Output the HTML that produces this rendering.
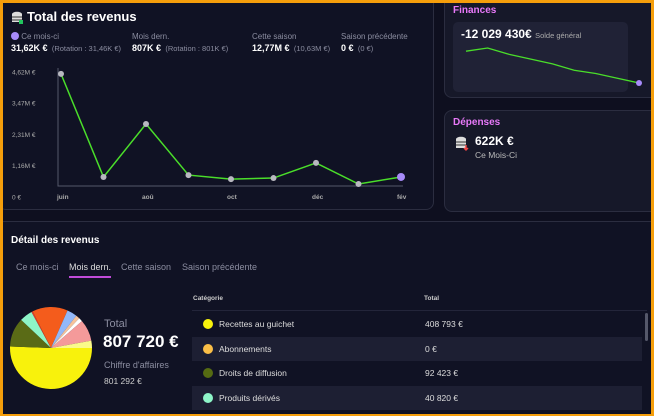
<!DOCTYPE html>
<html><head><meta charset="utf-8"><style>
*{box-sizing:border-box;margin:0;padding:0}
html{width:654px;height:416px;overflow:hidden}
body{width:654px;height:416px;overflow:hidden;background:#0e0f1f;font-family:"Liberation Sans",sans-serif;color:#fff;position:relative}
.frame{position:absolute;left:0;top:0;width:654px;height:416px;border:3px solid #f59e0b;border-bottom-width:2px;pointer-events:none;z-index:10}
.card{position:absolute;border:1px solid #2b2d40;border-radius:8px;background:#101224;overflow:hidden}
.t{position:absolute;white-space:nowrap}
.g{color:#8b8da0}
</style></head><body>
<div class="frame"></div>

<div class="card" style="left:-2px;top:-6px;width:436px;height:216px">
<svg class="t" style="left:12px;top:16px" width="12" height="14"><ellipse cx="6" cy="3" rx="5" ry="2.2" fill="#ddd"/><rect x="1" y="3" width="10" height="8" fill="#ddd"/><path d="M1 6h10M1 9h10" stroke="#333"/><rect x="8" y="9" width="4" height="4" fill="#22c55e"/></svg>
<div class="t" style="left:28px;top:14px;font-size:13px;font-weight:bold">Total des revenus</div>
<div class="t" style="left:12px;top:37px;font-size:8px"><span style="display:inline-block;width:8px;height:8px;border-radius:50%;background:#a78bfa;vertical-align:-1px"></span> <span class="g">Ce mois-ci</span><br><b style="font-size:9px;line-height:14px">31,62K €</b> <span class="g" style="font-size:7.5px">&nbsp;(Rotation : 31,46K €)</span></div>
<div class="t" style="left:133px;top:37px;font-size:8px"><span class="g">Mois dern.</span><br><b style="font-size:9px;line-height:14px">807K €</b> <span class="g" style="font-size:7.5px">&nbsp;(Rotation : 801K €)</span></div>
<div class="t" style="left:253px;top:37px;font-size:8px"><span class="g">Cette saison</span><br><b style="font-size:9px;line-height:14px">12,77M €</b> <span class="g" style="font-size:7.5px">&nbsp;(10,63M €)</span></div>
<div class="t" style="left:342px;top:37px;font-size:8px"><span class="g">Saison précédente</span><br><b style="font-size:9px;line-height:14px">0 €</b> <span class="g" style="font-size:7.5px">&nbsp;(0 €)</span></div>
</div>
<svg id="lc" class="t" style="left:0;top:0" width="440" height="210"></svg>

<div class="card" style="left:444px;top:-6px;width:216px;height:104px;background:#161829">
<div class="t" style="left:8px;top:10px;font-size:10px;font-weight:bold;color:#e879f9">Finances</div>
<div class="t" style="left:8px;top:27px;width:175px;height:70px;background:#202236;border-radius:5px"></div>
<div class="t" style="left:16px;top:32px;font-size:12px;font-weight:bold">-12 029 430€ <span style="font-size:7.5px;font-weight:normal;color:#aaa">Solde général</span></div>
</div>
<svg id="sp" class="t" style="left:444px;top:0" width="210" height="100"></svg>

<div class="card" style="left:444px;top:110px;width:216px;height:102px;background:#161829">
<div class="t" style="left:8px;top:6px;font-size:10px;font-weight:bold;color:#e879f9">Dépenses</div>
<svg class="t" style="left:10px;top:25px" width="14" height="16"><ellipse cx="6" cy="3" rx="5" ry="2.2" fill="#ddd"/><rect x="1" y="3" width="10" height="9" fill="#ddd"/><path d="M1 6h10M1 9h10" stroke="#333"/><path d="M11 9v5M9 12l2 2 2-2" stroke="#ef4444" stroke-width="1.5" fill="none"/></svg>
<div class="t" style="left:30px;top:23px;font-size:12px;font-weight:bold">622K €</div>
<div class="t" style="left:30px;top:39px;font-size:8.5px;color:#bbb">Ce Mois-Ci</div>
</div>

<div class="card" style="left:-6px;top:221px;width:666px;height:195px;border-radius:10px 10px 0 0">
<div class="t" style="left:16px;top:13px;font-size:10px;font-weight:bold">Détail des revenus</div>
<div class="t g" style="left:21px;top:40px;font-size:9px">Ce mois-ci</div>
<div class="t" style="left:74px;top:40px;font-size:9px;color:#ddd;border-bottom:2px solid #c04bd8;padding-bottom:4px">Mois dern.</div>
<div class="t g" style="left:126px;top:40px;font-size:9px">Cette saison</div>
<div class="t g" style="left:187px;top:40px;font-size:9px">Saison précédente</div>
<div class="t g" style="left:109px;top:96px;font-size:11px">Total</div>
<div class="t" style="left:108px;top:110px;font-size:17px;font-weight:bold">807 720 €</div>
<div class="t g" style="left:109px;top:138px;font-size:9px">Chiffre d'affaires</div>
<div class="t" style="left:109px;top:154px;font-size:8.5px;color:#ccc">801 292 €</div>
<div class="t" style="left:198px;top:73px;font-size:6.5px;font-weight:bold;color:#ccc">Catégorie</div>
<div class="t" style="left:429px;top:73px;font-size:6.5px;font-weight:bold;color:#ccc">Total</div>
<div class="t" style="left:197px;top:88px;width:455px;height:1px;background:#23253a"></div>
<div id="rows"></div>
<div class="t" style="left:650px;top:91px;width:3px;height:28px;border-radius:2px;background:#55586a"></div>
</div>
<svg id="pie" class="t" style="left:0;top:300px" width="100" height="110"></svg>

<script>
const months=["juin","juil","aoû","sep","oct","nov","déc","jan","fév"];
const revenue=[4.55,0.74,2.7,0.81,0.66,0.7,1.26,0.48,0.74];
const yTicks=[0,1.16,2.31,3.47,4.62];
const yTickLabels=["0 €","1,16M €","2,31M €","3,47M €","4,62M €"];
const balance=[-11.2,-11.0,-11.4,-11.7,-12.0,-12.4,-12.6,-12.9,-13.2];
const catNames=["Recettes au guichet","Abonnements","Droits de diffusion","Produits dérivés"];
const catValues=["408 793 €","0 €","92 423 €","40 820 €"];
const catColors=["#f8f20c","#fbbf47","#556b12","#8ef5c8"];
const pieShares=[50.6,0,11.4,5.1,0.5,14,4,1.5,1.5,8.5,2.9];
const pieColors=["#f8f20c","#fbbf47","#5a6b16","#8ef5c8","#e23b2c","#f45c1c","#93b8f8","#f6c29a","#ffffff","#f49a9a","#fafa8a"];
const NS="http://www.w3.org/2000/svg";
function mk(p,t,a){const e=document.createElementNS(NS,t);for(const k in a)e.setAttribute(k,a[k]);p.appendChild(e);return e;}
const lc=document.getElementById('lc');
const X0=61,X1=401,Y0=197,YT=72,YMAX=4.62;
const xs=i=>X0+(X1-X0)*i/(months.length-1);
const ys=v=>Y0-(Y0-YT)*v/YMAX;
yTicks.forEach((v,i)=>{const t=mk(lc,'text',{x:12,y:ys(v)+2.5,fill:'#aaa','font-size':6.5,'font-family':'Liberation Sans'});t.textContent=yTickLabels[i];

});
const ax=mk(lc,'path',{d:`M58 68V186H403`,stroke:'#55586a',fill:'none','stroke-width':1});


months.forEach((m,i)=>{if(i%2)return;const t=mk(lc,'text',{x:xs(i)-4,y:199,fill:'#aaa','font-size':6.5,'font-weight':'bold','font-family':'Liberation Sans'});t.textContent=m;

});
const ln=mk(lc,'polyline',{points:revenue.map((v,i)=>xs(i)+','+ys(v)).join(' '),fill:'none',stroke:'#4ade2a','stroke-width':1.5});


revenue.forEach((v,i)=>{const last=i==revenue.length-1;const c=mk(lc,'circle',{cx:xs(i),cy:ys(v),r:last?4:3,fill:last?'#a78bfa':'#b8b8c0'});

});
const sp=document.getElementById('sp');
const bmin=Math.min(...balance),bmax=Math.max(...balance);
const sx=i=>22+(195-22)*i/(balance.length-1), sy=v=>48+(83-48)*(bmax-v)/(bmax-bmin);
const sl=mk(sp,'polyline',{points:balance.map((v,i)=>sx(i)+','+sy(v)).join(' '),fill:'none',stroke:'#4ade2a','stroke-width':1.3});


const sd=mk(sp,'circle',{cx:sx(balance.length-1),cy:sy(balance[balance.length-1]),r:3,fill:'#a78bfa'});


const pie=document.getElementById('pie');
const cx=51,cy=48,R=41;let a=0;const tot=pieShares.reduce((s,v)=>s+v,0);
pieShares.forEach((v,i)=>{if(!v)return;const a0=a/tot*2*Math.PI;a+=v;const a1=a/tot*2*Math.PI;
const p=mk(pie,'path',{d:`M${cx} ${cy}L${cx+R*Math.cos(a0)} ${cy+R*Math.sin(a0)}A${R} ${R} 0 ${a1-a0>Math.PI?1:0} 1 ${cx+R*Math.cos(a1)} ${cy+R*Math.sin(a1)}Z`,fill:pieColors[i]});

});
const rows=document.getElementById('rows');
catNames.forEach((n,i)=>{const top=90+i*24.5;const r=document.createElement('div');r.className='t';
r.style.cssText=`left:197px;top:${top}px;width:450px;height:24px;background:${i%2?'#1d1f33':'transparent'}`;


r.innerHTML=`<span style="position:absolute;left:11px;top:7px;width:10px;height:10px;border-radius:50%;background:${catColors[i]}"></span><span style="position:absolute;left:27px;top:7px;font-size:8.5px;color:#ddd">${n}</span><span style="position:absolute;left:233px;top:7px;font-size:8.5px;color:#ddd">${catValues[i]}</span>`;
rows.appendChild(r);});
</script>
</body></html>
